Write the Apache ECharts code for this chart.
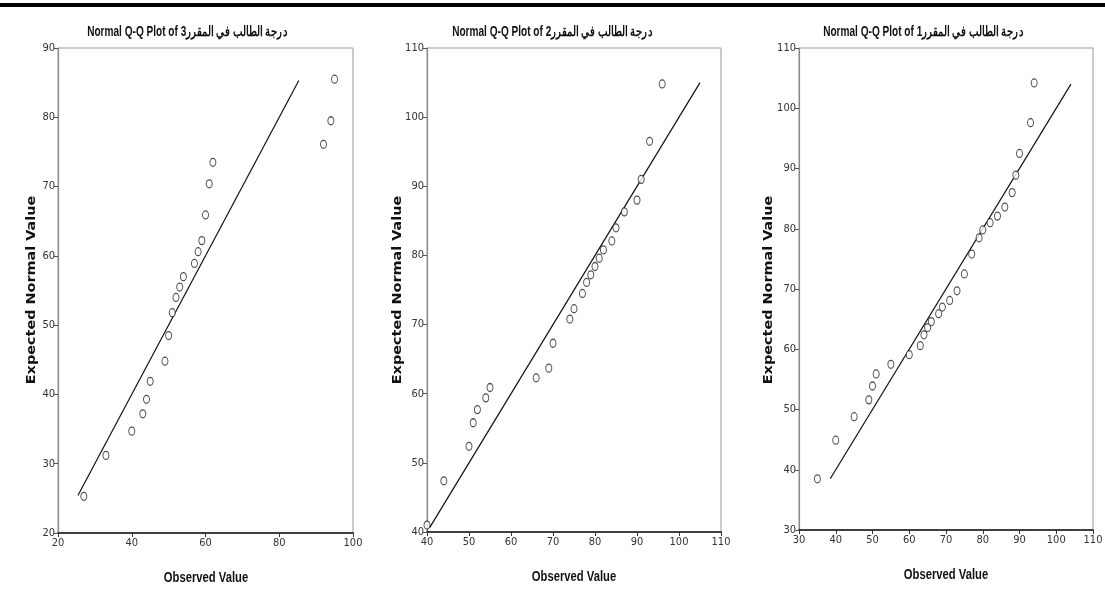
<!DOCTYPE html>
<html>
<head>
<meta charset="utf-8">
<script src="https://cdn.jsdelivr.net/npm/echarts@6/dist/echarts.min.js"></script>
<style>
	html, body { margin: 0; padding: 0; background: #fff; }
	#main { width: 1105px; height: 595px; }
</style>
</head>
<body>
<div id="main"></div>
<script>
// panel titles (left to right)
var titles = [
	'Normal Q-Q Plot of درجة الطالب في المقرر3',
	'Normal Q-Q Plot of درجة الطالب في المقرر2',
	'Normal Q-Q Plot of درجة الطالب في المقرر1'
];
var xName = 'Observed Value';
var yName = 'Expected Normal Value';

// course 3
var observed3 = [27, 33, 40, 43, 44, 45, 49, 50, 51, 52, 53, 54, 57, 58, 59, 60, 61, 62, 92, 94, 95];
var expected3 = [25.3, 31.2, 34.7, 37.2, 39.3, 41.9, 44.8, 48.5, 51.8, 54.0, 55.5, 57.0, 58.9, 60.6, 62.2, 65.9, 70.4, 73.5, 76.1, 79.5, 85.5];
var line3 = [25.4, 85.3];

// course 2
var observed2 = [40, 44, 50, 51, 52, 54, 55, 66, 69, 70, 74, 75, 77, 78, 79, 80, 81, 82, 84, 85, 87, 90, 91, 93, 96];
var expected2 = [41.0, 47.4, 52.4, 55.8, 57.7, 59.4, 60.9, 62.3, 63.7, 67.3, 70.8, 72.3, 74.5, 76.1, 77.2, 78.4, 79.6, 80.8, 82.1, 84.0, 86.3, 88.0, 91.0, 96.5, 104.8];
var line2 = [40.6, 105];

// course 1
var observed1 = [35, 40, 45, 49, 50, 51, 55, 60, 63, 64, 65, 66, 68, 69, 71, 73, 75, 77, 79, 80, 82, 84, 86, 88, 89, 90, 93, 94];
var expected1 = [38.5, 44.9, 48.8, 51.6, 53.9, 55.9, 57.5, 59.1, 60.6, 62.4, 63.6, 64.6, 65.9, 67.0, 68.1, 69.7, 72.5, 75.8, 78.5, 79.8, 81.0, 82.1, 83.6, 86.0, 88.9, 92.5, 97.6, 104.2];
var line1 = [38.5, 104];

// axis ranges [min, max, interval]
var xRange3 = [20, 100, 20], yRange3 = [20, 90, 10];
var xRange2 = [40, 110, 10], yRange2 = [40, 110, 10];
var xRange1 = [30, 110, 10], yRange1 = [30, 110, 10];

var sans = "'Liberation Sans', Arial, sans-serif";
var tickFont = "'DejaVu Sans Condensed', 'Liberation Sans', sans-serif";

var grids = [
	{left: 58, right: 752, top: 48, bottom: 62},
	{left: 427, right: 384, top: 48, bottom: 63},
	{left: 799, right: 12, top: 48, bottom: 65}
];
// text anchors (pixels)
var titleX = [187, 552, 923];
var xNamePos = [[206, 578], [574, 577], [946, 575]];
var yNamePos = [[32, 290], [398, 290], [769, 290]];

function makePairs(xs, ys){
	var out = [];
	for(var i=0; i<xs.length; i++){
		out.push([xs[i], ys[i]]);
	}
	return out;
}

function xAxisOf(idx, r){
	return {
		gridIndex: idx,
		type: 'value',
		min: r[0], max: r[1], interval: r[2],
		axisLine: {show: true, lineStyle: {color: '#111', width: 1.6}},
		axisTick: {show: true, length: 4, lineStyle: {color: '#333'}},
		axisLabel: {fontFamily: tickFont, fontSize: 11, color: '#333', margin: 5},
		splitLine: {show: false}
	};
}

function yAxisOf(idx, r){
	return {
		gridIndex: idx,
		type: 'value',
		min: r[0], max: r[1], interval: r[2],
		axisLine: {show: true, lineStyle: {color: '#888', width: 1.2}},
		axisTick: {show: true, length: 4, lineStyle: {color: '#555'}},
		axisLabel: {fontFamily: tickFont, fontSize: 11, color: '#333', margin: 3},
		splitLine: {show: false}
	};
}

function pointSeries(idx, xs, ys){
	return {
		type: 'scatter',
		xAxisIndex: idx, yAxisIndex: idx,
		data: makePairs(xs, ys),
		symbol: 'circle',
		symbolSize: [6, 8],
		itemStyle: {color: '#fff', borderColor: '#222', borderWidth: 1.1},
		z: 3
	};
}

function lineSeries(idx, ends){
	return {
		type: 'line',
		xAxisIndex: idx, yAxisIndex: idx,
		data: [[ends[0], ends[0]], [ends[1], ends[1]]],
		showSymbol: false,
		lineStyle: {color: '#111', width: 1.2},
		z: 2
	};
}

// texts are squeezed / stretched to get the look of the SPSS fonts
var graphics = [{
	type: 'rect',
	shape: {x: 0, y: 3, width: 1105, height: 4},
	style: {fill: '#000'}
}];
for(var i=0; i<3; i++){
	graphics.push({
		type: 'text',
		x: titleX[i], y: 32,
		scaleX: 0.72,
		style: {
			text: titles[i],
			textAlign: 'center', textVerticalAlign: 'middle',
			font: "bold 14px " + sans, fill: '#111'
		}
	});
	graphics.push({
		type: 'text',
		x: xNamePos[i][0], y: xNamePos[i][1],
		scaleX: 0.75,
		style: {
			text: xName,
			textAlign: 'center', textVerticalAlign: 'middle',
			font: "bold 15px " + sans, fill: '#111'
		}
	});
	graphics.push({
		type: 'text',
		x: yNamePos[i][0], y: yNamePos[i][1],
		rotation: Math.PI / 2,
		scaleX: 1.2,
		style: {
			text: yName,
			textAlign: 'center', textVerticalAlign: 'middle',
			font: "bold 12px 'DejaVu Sans', sans-serif", fill: '#111'
		}
	});
}

var chart = echarts.init(document.getElementById('main'), null, {renderer: 'canvas'});
var option = {
	backgroundColor: '#fff',
	animation: false,
	grid: grids.map(function(g){
		return {
			left: g.left, right: g.right, top: g.top, bottom: g.bottom,
			show: true,
			borderColor: '#999',
			borderWidth: 1,
			containLabel: false,
			outerBoundsMode: 'none'
		};
	}),
	xAxis: [xAxisOf(0, xRange3), xAxisOf(1, xRange2), xAxisOf(2, xRange1)],
	yAxis: [yAxisOf(0, yRange3), yAxisOf(1, yRange2), yAxisOf(2, yRange1)],
	graphic: graphics,
	series: [
		lineSeries(0, line3), pointSeries(0, observed3, expected3),
		lineSeries(1, line2), pointSeries(1, observed2, expected2),
		lineSeries(2, line1), pointSeries(2, observed1, expected1)
	]
};
chart.setOption(option);
</script>
</body>
</html>
